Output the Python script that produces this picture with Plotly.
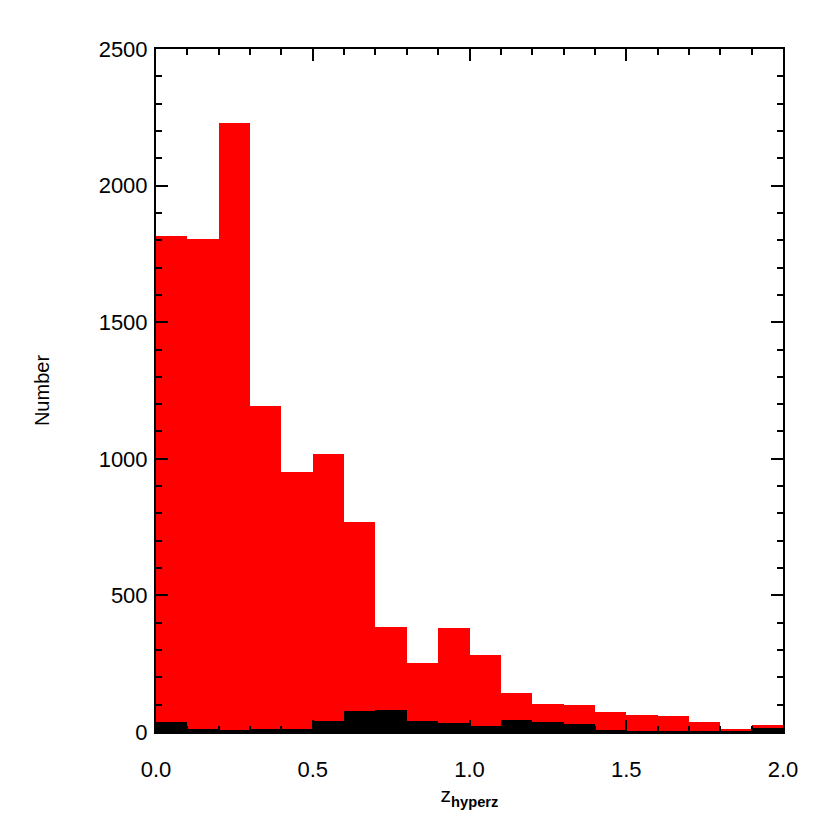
import plotly.graph_objects as go

# bin left edges (width 0.1) and counts
z_left = [0.0, 0.1, 0.2, 0.3, 0.4, 0.5, 0.6, 0.7, 0.8, 0.9,
          1.0, 1.1, 1.2, 1.3, 1.4, 1.5, 1.6, 1.7, 1.8, 1.9]
n_all = [1816, 1803, 2228, 1193, 953, 1019, 768, 386, 253, 379,
         281, 141, 104, 98, 73, 62, 60, 35, 10, 24]
n_sub = [36, 10, 6, 10, 12, 40, 76, 82, 40, 32,
         22, 43, 38, 28, 4, 3, 3, 3, 3, 14]
bin_width = 0.1

font = dict(family="Liberation Sans, Arial, sans-serif", color="black")

fig = go.Figure()
fig.add_trace(go.Bar(x=z_left, y=n_all, width=bin_width, offset=0,
                     marker=dict(color="#ff0000", line=dict(width=0)),
                     showlegend=False))
fig.add_trace(go.Bar(x=z_left, y=n_sub, width=bin_width, offset=0,
                     marker=dict(color="#000000", line=dict(width=0)),
                     showlegend=False))

axis_common = dict(showline=True, linecolor="black", linewidth=2, mirror="allticks",
                   ticks="inside", tickcolor="black", tickwidth=2, ticklen=12,
                   showgrid=False, zeroline=False, automargin=False,
                   tickfont=dict(size=22, **font))

# the page body adds an 8px offset, so margins are shifted to compensate
fig.update_layout(
    width=830, height=830,
    margin=dict(l=148, r=55, t=41, b=106),
    paper_bgcolor="white", plot_bgcolor="white",
    barmode="overlay", bargap=0,
    font=font,
    xaxis=dict(range=[0, 2.0], dtick=0.5, tickformat=".1f", ticklabelstandoff=17,
               minor=dict(dtick=0.1, ticks="inside", ticklen=6, tickcolor="black", tickwidth=2),
               title=dict(text="z<sub><b>hyperz</b></sub>", font=dict(size=21, **font), standoff=6),
               **axis_common),
    yaxis=dict(range=[0, 2500], dtick=500, ticklabelstandoff=2,
               minor=dict(dtick=100, ticks="inside", ticklen=6, tickcolor="black", tickwidth=2),
               title=dict(text="Number", font=dict(size=20, **font), standoff=44),
               **axis_common),
)

fig.write_html("out.html")
